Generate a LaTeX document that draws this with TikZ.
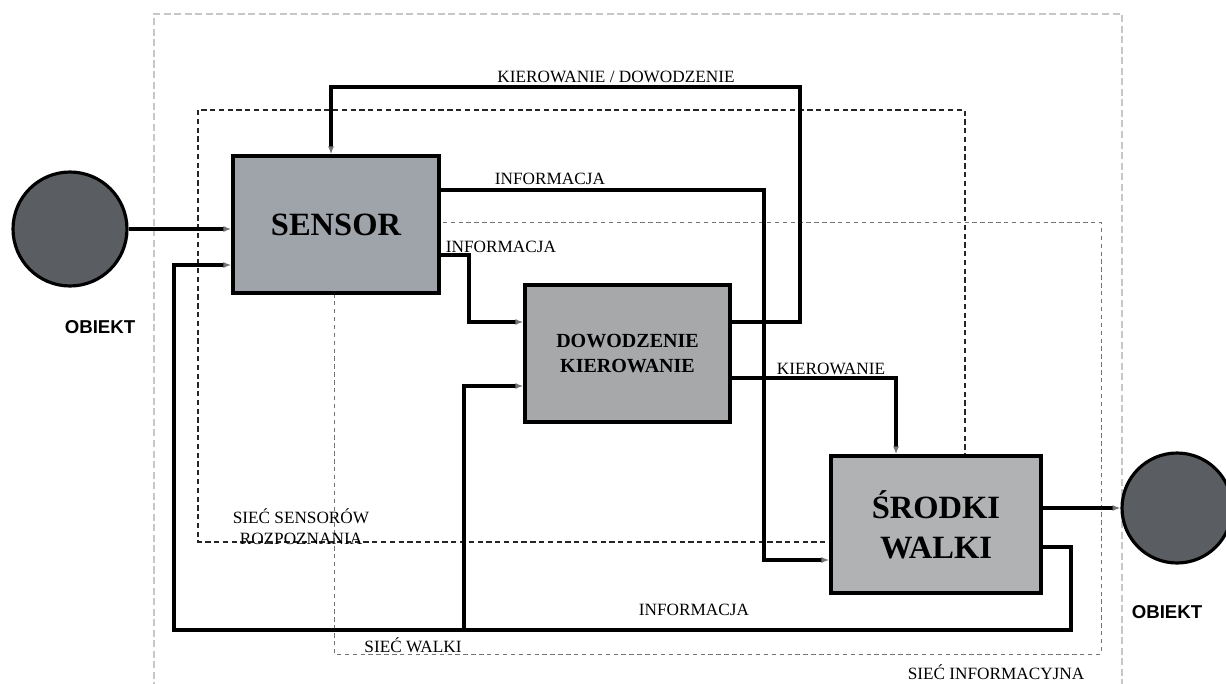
\documentclass[tikz,border=0pt]{standalone}
\usepackage{fontspec}
\setmainfont{Liberation Serif}
\newfontfamily\objfont{Liberation Sans}
\usetikzlibrary{arrows.meta}
\definecolor{sensgray}{HTML}{9FA4AA}
\definecolor{dowgray}{HTML}{A6A8AA}
\definecolor{srgray}{HTML}{B0B2B4}
\definecolor{objgray}{HTML}{5A5D62}
\begin{document}
\begin{tikzpicture}[x=0.02cm,y=-0.02cm,
  box/.style={draw,line width=2pt,inner sep=0pt,align=center,font=\bfseries\fontsize{18.5}{23}\selectfont,minimum height=2.74cm},
  obj/.style={circle,draw,line width=1.8pt,fill=objgray,inner sep=0pt},
  objlab/.style={font=\objfont\bfseries\fontsize{10.6}{12}\selectfont,inner sep=0pt},
  lab/.style={font=\fontsize{9.8}{12}\selectfont,inner sep=0pt,align=center},
  conn/.style={line width=1.8pt,-{Latex[length=4.5pt,width=3.5pt,color=black!55]}},
  neta/.style={black!85,line width=0.7pt,dash pattern=on 3pt off 2pt},
  netb/.style={black!55,line width=0.5pt,dash pattern=on 2.5pt off 2pt},
  netc/.style={black!22,line width=0.6pt,dash pattern=on 4pt off 2pt}]
\clip (0,0) rectangle (1226,683);
% sieci
\draw[netc] (154,700) -- (154,14) -- (1122,14) -- (1122,700);
\draw[netb] (334,222) rectangle (1101,654);
\draw[neta] (198,110) rectangle (965,542);
% obiekty i bloki
\node[obj,minimum size=2.28cm] (obj1) at (70,229) {};
\node[obj,minimum size=2.2cm] (obj2) at (1177,508) {};
\node[objlab] (obj1-t) at (100,327) {OBIEKT};
\node[objlab] (obj2-t) at (1167,612) {OBIEKT};
\node[box,fill=sensgray,minimum width=4.12cm] (sensor) at (336,224.5) {SENSOR};
\node[box,fill=dowgray,minimum width=4.1cm,font=\bfseries\fontsize{11.4}{14.2}\selectfont] (dow) at (627.5,353.5) {DOWODZENIE\\KIEROWANIE};
\node[box,fill=srgray,minimum width=4.2cm] (srodki) at (936,524.5) {ŚRODKI\\WALKI};
% polaczenia
\coordinate (fb) at (464,630);
\draw[conn] (obj1.east) -- (sensor.west |- obj1.east);
\draw[conn] (srodki.east |- 0,547) -| (1071,630) -| (174,265) -- (sensor.west |- 0,265);
\draw[conn] (fb) |- (dow.west |- 0,386);
\draw[conn] (sensor.east |- 0,255) -| (469,322) -- (dow.west |- 0,322);
\draw[conn] (sensor.east |- 0,190) -| (764,560) -- (srodki.west |- 0,560);
\draw[conn] (dow.east |- 0,322) -| (800,87) -| (sensor.north -| 331,0);
\draw[conn] (dow.east |- 0,378) -| (srodki.north -| 896,0);
\draw[conn] (obj2.west -| srodki.east) -- (obj2.west);
% opisy
\node[lab] (l-kd) at (616,77) {KIEROWANIE / DOWODZENIE};
\node[lab] (l-inf1) at (550,179) {INFORMACJA};
\node[lab] (l-inf2) at (501,247) {INFORMACJA};
\node[lab] (l-kier) at (831,369) {KIEROWANIE};
\node[lab] (l-inf3) at (694,610) {INFORMACJA};
\node[lab] (l-sens) at (301,527) {SIEĆ SENSORÓW\\ROZPOZNANIA};
\node[lab] (l-walki) at (413,645) {SIEĆ WALKI};
\node[lab] (l-info) at (996,672) {SIEĆ INFORMACYJNA};
\end{tikzpicture}
\end{document}
